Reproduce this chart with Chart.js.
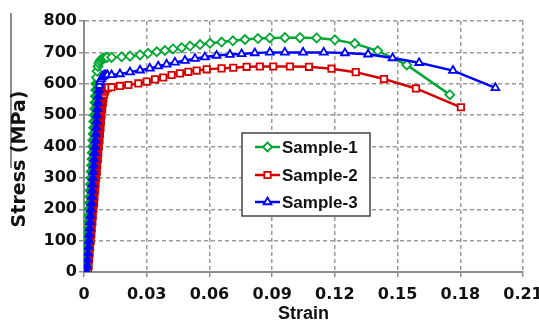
<!DOCTYPE html>
<html>
<head>
<meta charset="utf-8">
<script src="https://cdn.jsdelivr.net/npm/chart.js@4.4.1/dist/chart.umd.min.js"></script>
<style>
  html, body { margin: 0; padding: 0; background: #fff; }
</style>
</head>
<body>
<canvas id="stressChart" width="539" height="325"></canvas>
<script>
// Tensile test curves, three samples
var sampleNames = ['Sample-1', 'Sample-2', 'Sample-3'];
var xTicks = [0, 0.03, 0.06, 0.09, 0.12, 0.15, 0.18, 0.21];
var yTicks = [0, 100, 200, 300, 400, 500, 600, 700, 800];

var sample1Strain = [0.0008, 0.0010, 0.0011, 0.0013, 0.0015, 0.0016, 0.0018, 0.0019, 0.0021, 0.0023, 0.0024, 0.0026, 0.0028, 0.0029, 0.0031, 0.0033,
    0.0034, 0.0036, 0.0038, 0.0039, 0.0041, 0.0042, 0.0044, 0.0046, 0.0047, 0.0049, 0.0051, 0.0052, 0.0054, 0.0056, 0.0057,
    0.0060, 0.0063, 0.0067, 0.0071, 0.0076, 0.0082, 0.0088, 0.0095, 0.0102, 0.0110,
    0.0132, 0.0180, 0.0220, 0.0268, 0.0306, 0.0348, 0.0387, 0.0426, 0.0467, 0.0507, 0.0555, 0.0603, 0.0658, 0.0712, 0.0770, 0.0832, 0.0889, 0.0961, 0.1033, 0.1113, 0.1200, 0.1295, 0.1405, 0.1544, 0.1750];
var sample1Stress = [0, 20, 40, 60, 80, 100, 120, 140, 160, 180, 200, 220, 240, 260, 280, 300,
    320, 340, 360, 380, 400, 420, 440, 460, 480, 500, 520, 540, 560, 580, 600,
    620, 640, 655, 665, 672, 677, 680, 682, 683, 684,
    684, 686, 688, 692, 697, 702, 706, 711, 715, 720, 725, 729, 733, 737, 741, 744, 746, 747, 747, 746, 740, 728, 705, 660, 565];

var sample2Strain = [0.0019, 0.0022, 0.0024, 0.0027, 0.0029, 0.0032, 0.0035, 0.0037, 0.0040, 0.0042, 0.0045, 0.0048, 0.0050, 0.0053, 0.0055, 0.0058,
    0.0061, 0.0063, 0.0066, 0.0068, 0.0071, 0.0074, 0.0076, 0.0079, 0.0081, 0.0084, 0.0087, 0.0090, 0.0093, 0.0096, 0.0099, 0.0102, 0.0106, 0.0110, 0.0115,
    0.0132, 0.0172, 0.0212, 0.0260, 0.0300, 0.0340, 0.0379, 0.0419, 0.0459, 0.0499, 0.0539, 0.0587, 0.0658, 0.0714, 0.0778, 0.0841, 0.0905, 0.0985, 0.1076, 0.1184, 0.1300, 0.1435, 0.1588, 0.1803];
var sample2Stress = [0, 20, 40, 60, 80, 100, 120, 140, 160, 180, 200, 220, 240, 260, 280, 300,
    320, 340, 360, 380, 400, 420, 440, 460, 480, 500, 520, 540, 555, 567, 575, 581, 585, 587, 588,
    589, 593, 596, 601, 607, 614, 620, 628, 633, 638, 642, 646, 649, 651, 654, 655, 655, 655, 654, 648, 637, 615, 585, 525];

var sample3Strain = [0.0013, 0.0015, 0.0017, 0.0019, 0.0021, 0.0023, 0.0025, 0.0027, 0.0029, 0.0031, 0.0033, 0.0035, 0.0037, 0.0038, 0.0040, 0.0042,
    0.0044, 0.0046, 0.0048, 0.0050, 0.0052, 0.0054, 0.0056, 0.0058, 0.0060, 0.0062, 0.0064, 0.0066, 0.0068, 0.0071, 0.0074, 0.0078, 0.0082, 0.0087, 0.0092, 0.0098, 0.0105, 0.0112,
    0.0132, 0.0172, 0.0220, 0.0268, 0.0315, 0.0355, 0.0395, 0.0435, 0.0483, 0.0531, 0.0578, 0.0634, 0.0698, 0.0754, 0.0817, 0.0889, 0.0961, 0.1048, 0.1147, 0.1248, 0.1359, 0.1476, 0.1603, 0.1765, 0.1968];
var sample3Stress = [0, 20, 40, 60, 80, 100, 120, 140, 160, 180, 200, 220, 240, 260, 280, 300,
    320, 340, 360, 380, 400, 420, 440, 460, 480, 500, 520, 540, 560, 580, 595, 607, 615, 621, 625, 627, 628, 628,
    628, 631, 637, 643, 649, 656, 662, 668, 674, 680, 685, 690, 693, 695, 698, 700, 700, 700, 700, 698, 694, 682, 667, 642, 587];

var colors = ['#00a832', '#d40000', '#0000ff'];
var markers = ['rectRot', 'rect', 'triangle'];
// markers packed along the elastic rise merge into a solid band
var solidBelow = [600, 560, 590];

function toPoints(xs, ys) {
    return xs.map(function (x, i) { return { x: x, y: ys[i] }; });
}

function drawMarker(ctx, style, x, y, r) {
    ctx.beginPath();
    if (style === 'rectRot') {
        ctx.moveTo(x, y - r); ctx.lineTo(x + r, y); ctx.lineTo(x, y + r); ctx.lineTo(x - r, y);
        ctx.closePath();
    } else if (style === 'rect') {
        var s = r * Math.SQRT1_2;
        ctx.rect(x - s, y - s, 2 * s, 2 * s);
    } else {
        ctx.moveTo(x, y - r); ctx.lineTo(x + 0.866 * r, y + 0.5 * r); ctx.lineTo(x - 0.866 * r, y + 0.5 * r);
        ctx.closePath();
    }
    ctx.fill();
    ctx.stroke();
}

// y title, the boxed legend and the stray rule at the far left
var decorPlugin = {
    id: 'decor',
    afterDraw: function (chart) {
        var ctx = chart.ctx;
        ctx.save();
        ctx.strokeStyle = '#8c8c8c';
        ctx.lineWidth = 2;
        ctx.beginPath();
        ctx.moveTo(11, 13);
        ctx.lineTo(11, 168);
        ctx.stroke();

        ctx.translate(20, 159);
        ctx.rotate(-Math.PI / 2);
        ctx.fillStyle = '#111';
        ctx.font = 'bold 19px "DejaVu Sans"';
        ctx.textAlign = 'center';
        ctx.textBaseline = 'middle';
        ctx.fillText('Stress (MPa)', 0, 0);
        ctx.restore();

        ctx.save();
        ctx.fillStyle = '#fff';
        ctx.fillRect(242, 133, 128, 83);
        ctx.strokeStyle = '#444';
        ctx.lineWidth = 1.5;
        ctx.strokeRect(242, 133, 128, 83);
        var rows = [147, 175, 202];
        for (var i = 0; i < sampleNames.length; i++) {
            ctx.strokeStyle = colors[i];
            ctx.lineWidth = 2.5;
            ctx.beginPath();
            ctx.moveTo(255, rows[i]);
            ctx.lineTo(280, rows[i]);
            ctx.stroke();
            ctx.fillStyle = '#fff';
            ctx.lineWidth = 1.8;
            drawMarker(ctx, markers[i], 267.5, rows[i], 4.5);
            ctx.fillStyle = '#111';
            ctx.font = 'bold 17px "Liberation Sans"';
            ctx.textAlign = 'left';
            ctx.textBaseline = 'middle';
            ctx.fillText(sampleNames[i], 282, rows[i] + 1);
        }
        ctx.restore();
    }
};

var series = [[sample1Strain, sample1Stress], [sample2Strain, sample2Stress], [sample3Strain, sample3Stress]];
var drawOrder = [1, 2, 0];

var datasets = series.map(function (s, i) {
    return {
        label: sampleNames[i],
        data: toPoints(s[0], s[1]),
        showLine: true,
        borderColor: colors[i],
        borderWidth: 2.5,
        pointStyle: markers[i],
        pointRadius: 4.5,
        pointBorderWidth: 1.8,
        pointBackgroundColor: function (c) {
            var p = c.raw;
            return p && p.x < 0.0115 && p.y <= solidBelow[i] ? colors[i] : '#fff';
        },
        pointBorderColor: colors[i],
        order: drawOrder[i],
        tension: 0
    };
});

var gridStyle = { color: '#9a9a9a', lineWidth: 1.5, tickLength: 5, tickColor: '#8c8c8c', tickBorderDash: [] };

new Chart(document.getElementById('stressChart'), {
    type: 'scatter',
    data: { datasets: datasets },
    plugins: [decorPlugin],
    options: {
        responsive: false,
        animation: false,
        layout: { padding: { top: 21, right: 16, left: 0, bottom: 0 } },
        plugins: { legend: { display: false }, tooltip: { enabled: false } },
        scales: {
            x: {
                type: 'linear',
                min: 0,
                max: 0.21,
                afterBuildTicks: function (s) { s.ticks = xTicks.map(function (v) { return { value: v }; }); },
                afterFit: function (s) { s.height = 53; s.paddingLeft = 0; s.paddingRight = 0; },
                ticks: {
                    color: '#111',
                    padding: 8,
                    font: { family: 'DejaVu Sans', weight: 'bold', size: 16 },
                    callback: function (v) { return v === 0 ? '0' : v.toFixed(2); }
                },
                grid: gridStyle,
                border: { display: true, color: '#8c8c8c', width: 2, dash: [4, 3] },
                title: {
                    display: true,
                    text: 'Strain',
                    color: '#111',
                    font: { family: 'Liberation Sans', weight: 'bold', size: 18 },
                    padding: { top: 2, bottom: 0 }
                }
            },
            y: {
                min: 0,
                max: 800,
                afterBuildTicks: function (s) { s.ticks = yTicks.map(function (v) { return { value: v }; }); },
                afterFit: function (s) { s.width = 84; },
                ticks: {
                    color: '#111',
                    padding: 2,
                    font: { family: 'DejaVu Sans', weight: 'bold', size: 16 }
                },
                grid: gridStyle,
                border: { display: true, color: '#8c8c8c', width: 2, dash: [4, 3] }
            }
        }
    }
});
</script>
</body>
</html>
